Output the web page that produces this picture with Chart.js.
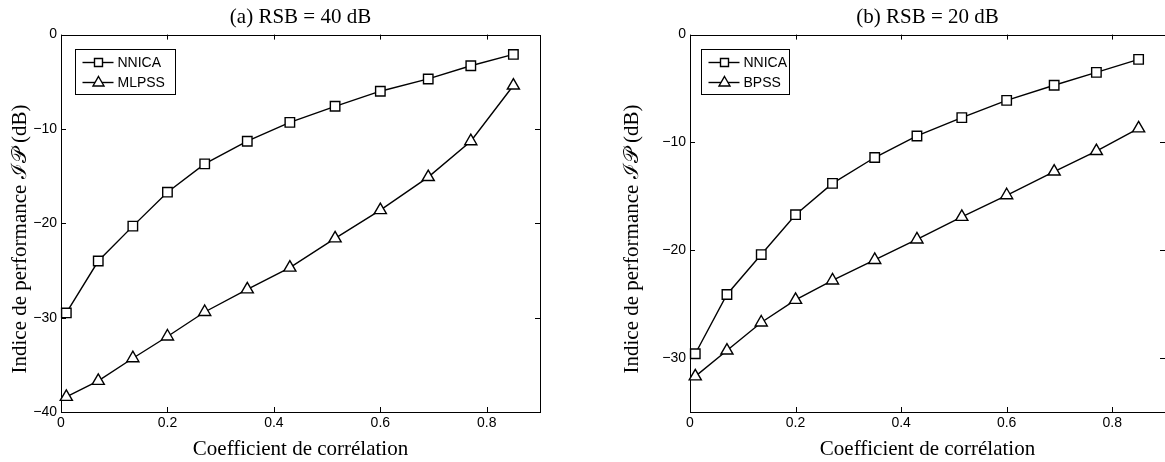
<!DOCTYPE html>
<html>
<head>
<meta charset="utf-8">
<script src="https://cdn.jsdelivr.net/npm/chart.js"></script>
<style>
html, body { margin: 0; padding: 0; background: #fff; overflow: hidden; width: 1165px; height: 462px; }
body { position: relative; }
canvas { position: absolute; top: 0; }
#chartA { left: 0; }
#chartB { left: 583px; }
</style>
</head>
<body>
<canvas id="chartA" width="583" height="462"></canvas>
<canvas id="chartB" width="600" height="462"></canvas>
<script>
// correlation coefficients (x) shared by both panels
const correlation = [0.01, 0.07, 0.135, 0.2, 0.27, 0.35, 0.43, 0.515, 0.6, 0.69, 0.77, 0.85]
// (a) RSB = 40 dB
const nnica40 = [-29.5, -24.0, -20.3, -16.7, -13.7, -11.3, -9.3, -7.6, -6.0, -4.7, -3.3, -2.1]
const mlpss40 = [-38.4, -36.7, -34.3, -32.0, -29.4, -27.0, -24.7, -21.6, -18.6, -15.1, -11.3, -5.4]
// (b) RSB = 20 dB
const nnica20 = [-29.6, -24.1, -20.4, -16.7, -13.8, -11.4, -9.4, -7.7, -6.1, -4.7, -3.5, -2.3]
const bpss20 = [-31.7, -29.3, -26.7, -24.6, -22.8, -20.9, -19.0, -16.9, -14.9, -12.7, -10.8, -8.7]
// tick labels
const xTicks = [0, 0.2, 0.4, 0.6, 0.8]
const yTicksA = [-40, -30, -20, -10, 0]
const yTicksB = [-30, -20, -10, 0]

const sans = '"Liberation Sans", Arial, Helvetica, sans-serif'
const serif = '"Liberation Serif", "Times New Roman", serif'
const nb = '\u00a0'

const framePlugin = {
  id: 'frame',
  beforeDatasetsDraw(chart){
    const {ctx, chartArea: a, scales: {x, y}} = chart
    ctx.save()
    ctx.strokeStyle = '#000'
    ctx.lineWidth = 1
    ctx.strokeRect(Math.round(a.left) + 0.5, Math.round(a.top) + 0.5, Math.round(a.right - a.left), Math.round(a.bottom - a.top))
    ctx.beginPath()
    x.ticks.forEach(t => {
      const px = Math.round(x.getPixelForValue(t.value)) + 0.5
      ctx.moveTo(px, a.bottom); ctx.lineTo(px, a.bottom - 5)
      ctx.moveTo(px, a.top); ctx.lineTo(px, a.top + 5)
    })
    y.ticks.forEach(t => {
      const py = Math.round(y.getPixelForValue(t.value)) + 0.5
      ctx.moveTo(a.left, py); ctx.lineTo(a.left + 5, py)
      ctx.moveTo(a.right, py); ctx.lineTo(a.right - 5, py)
    })
    ctx.stroke()
    ctx.restore()
  },
  afterDatasetsDraw(chart, args, opts){
    const {ctx, chartArea: a} = chart
    const bx = Math.round(a.left + opts.x) + 0.5, by = Math.round(a.top + opts.y) + 0.5
    ctx.save()
    ctx.fillStyle = '#fff'
    ctx.strokeStyle = '#000'
    ctx.lineWidth = 1
    ctx.fillRect(bx, by, opts.w, opts.h)
    ctx.strokeRect(bx, by, opts.w, opts.h)
    chart.data.datasets.forEach((ds, i) => {
      const yy = by + 13 + i * 20
      ctx.lineWidth = ds.borderWidth
      ctx.beginPath()
      ctx.moveTo(bx + 7, yy); ctx.lineTo(bx + 38, yy)
      ctx.stroke()
      const cx = bx + 23
      ctx.beginPath()
      if(ds.pointStyle === 'rect'){
        ctx.rect(cx - 4, yy - 4, 8, 8)
      }else{
        ctx.moveTo(cx, yy - 6); ctx.lineTo(cx + 5.5, yy + 3.5); ctx.lineTo(cx - 5.5, yy + 3.5); ctx.closePath()
      }
      ctx.fillStyle = '#fff'
      ctx.fill()
      ctx.stroke()
      ctx.fillStyle = '#000'
      ctx.font = '14px ' + sans
      ctx.textBaseline = 'middle'
      ctx.fillText(ds.label, bx + 42, yy + 1)
    })
    ctx.restore()
  }
}

function series(label, values, style){
  return {
    label: label,
    data: correlation.map((c, i) => ({x: c, y: values[i]})),
    borderColor: '#000',
    borderWidth: 1.4,
    pointStyle: style,
    pointRadius: style === 'rect' ? 6.7 : 7,
    pointBackgroundColor: '#fff',
    pointBorderColor: '#000',
    pointBorderWidth: 1.4,
    tension: 0,
    fill: false,
    clip: false
  }
}

function makeChart(id, title, datasets, yMin, yTicks, yWidth, yTitlePad, padRight, legend){
  return new Chart(document.getElementById(id), {
    type: 'line',
    data: {datasets: datasets},
    plugins: [framePlugin],
    options: {
      responsive: false,
      animation: false,
      events: [],
      layout: {padding: {left: 0, right: padRight, top: 0, bottom: 0}},
      plugins: {
        legend: {display: false},
        tooltip: {enabled: false},
        title: {
          display: true, text: title, color: '#000', fullSize: false,
          font: {family: serif, size: 21, weight: 'normal'},
          padding: {top: 5, bottom: 4.4}
        },
        frame: legend
      },
      scales: {
        x: {
          type: 'linear', min: 0, max: 0.9,
          afterBuildTicks: s => { s.ticks = xTicks.map(v => ({value: v})) },
          afterFit: s => { s.height = 50 },
          grid: {display: false, drawTicks: false},
          border: {display: false},
          ticks: {color: '#000', padding: 3, font: {family: sans, size: 14}, callback: v => String(v)},
          title: {display: true, text: 'Coefficient de corrélation', color: '#000', font: {family: serif, size: 21}, padding: {top: 0, bottom: 0}}
        },
        y: {
          type: 'linear', min: yMin, max: 0,
          afterBuildTicks: s => { s.ticks = yTicks.map(v => ({value: v})) },
          afterFit: s => { s.width = yWidth },
          grid: {display: false, drawTicks: false},
          border: {display: false},
          ticks: {color: '#000', padding: 4, font: {family: sans, size: 14}, callback: v => String(v).replace('-', '\u2212')},
          title: {display: true, text: 'Indice de performance \u2110\uD835\uDCAB (dB)' + nb.repeat(6), color: '#000', font: {family: serif, size: 21}, padding: {top: yTitlePad, bottom: 0}}
        }
      }
    }
  })
}

makeChart('chartA', '(a) RSB = 40 dB',
  [series('NNICA', nnica40, 'rect'), series('MLPSS', mlpss40, 'triangle')],
  -40, yTicksA, 61, 7.5, 43, {x: 14, y: 14, w: 100, h: 45})

makeChart('chartB', '(b) RSB = 20 dB',
  [series('NNICA', nnica20, 'rect'), series('BPSS', bpss20, 'triangle')],
  -35, yTicksB, 107, 36.4, 18, {x: 11, y: 14, w: 88, h: 45})
</script>
</body>
</html>
